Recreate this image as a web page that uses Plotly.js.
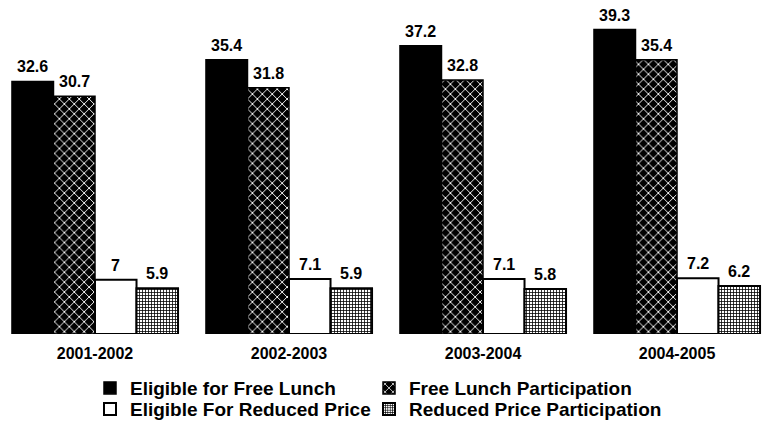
<!DOCTYPE html>
<html>
<head>
<meta charset="utf-8">
<script src="https://cdn.plot.ly/plotly-3.0.1.min.js"></script>
<style>
  html, body { margin: 0; padding: 0; background: #fff; }
  #chart { width: 762px; height: 426px; }
</style>
</head>
<body>
<div id="chart"></div>
<script>
// School years on the category axis
const years = ['2001-2002', '2002-2003', '2003-2004', '2004-2005'];

// Series values (percent of students)
const eligibleFree = [32.6, 35.4, 37.2, 39.3];
const freeParticipation = [30.7, 31.8, 32.8, 35.4];
const eligibleReduced = [7, 7.1, 7.1, 7.2];
const reducedParticipation = [5.9, 5.9, 5.8, 6.2];

const seriesNames = [
  'Eligible for Free Lunch',
  'Free Lunch Participation',
  'Eligible For Reduced Price',
  'Reduced Price Participation'
];

const FONT = 'Liberation Sans, Arial, sans-serif';
const BARGAP = 0.144;
const PLOT_W = 762;
const XRANGE = [-0.4897, 3.4381];

const markers = [
  { color: '#000000', line: { color: '#000', width: 1.5 } },
  { color: '#000000', line: { color: '#000', width: 1.5 },
    pattern: { shape: 'x', fgcolor: '#ffffff', bgcolor: '#000000', size: 7, solidity: 0.25 } },
  { color: '#ffffff', line: { color: '#000', width: 2 } },
  { color: '#ffffff', line: { color: '#000', width: 2 },
    pattern: { shape: '+', fgcolor: '#000000', bgcolor: '#ffffff', size: 3, solidity: 0.45 } }
];

// One legend box per series, laid out as a 2x2 key under the axis
const legendIds = ['legend', 'legend2', 'legend3', 'legend4'];
const legendX = [90, 369, 90, 369];
const legendY = [-0.105, -0.105, -0.168, -0.168];

const seriesValues = [eligibleFree, freeParticipation, eligibleReduced, reducedParticipation];

const traces = seriesValues.map((vals, i) => ({
  type: 'bar',
  name: seriesNames[i],
  x: years,
  y: vals,
  marker: markers[i],
  legend: legendIds[i],
  hoverinfo: 'x+y+name'
}));

// Value labels above each bar, centred on the bar within its group
const pxPerCat = PLOT_W / (XRANGE[1] - XRANGE[0]);
const barW = pxPerCat * (1 - BARGAP) / seriesValues.length;
const annotations = [];
seriesValues.forEach((vals, i) => {
  const shift = (i - (seriesValues.length - 1) / 2) * barW;
  vals.forEach((v, j) => {
    annotations.push({
      x: years[j], y: v, xref: 'x', yref: 'y',
      text: String(v), showarrow: false,
      xanchor: 'center', yanchor: 'bottom',
      xshift: shift, yshift: 4,
      font: { family: FONT, size: 16, weight: 'bold', color: '#000' }
    });
  });
});

const layout = {
  width: 762,
  height: 426,
  margin: { l: 0, r: 0, t: 0, b: 92, pad: 0, autoexpand: false },
  paper_bgcolor: '#ffffff',
  plot_bgcolor: '#ffffff',
  barmode: 'group',
  bargap: BARGAP,
  bargroupgap: 0,
  showlegend: true,
  xaxis: {
    type: 'category',
    range: XRANGE,
    showgrid: false,
    zeroline: false,
    showline: false,
    ticks: '',
    automargin: false,
    ticklabelstandoff: 8,
    tickfont: { family: FONT, size: 16, weight: 'bold', color: '#000' },
    fixedrange: true
  },
  yaxis: {
    range: [0, 43.12],
    showgrid: false,
    zeroline: false,
    showline: false,
    showticklabels: false,
    ticks: '',
    automargin: false,
    fixedrange: true
  },
  annotations: annotations
};

legendIds.forEach((id, i) => {
  layout[id] = {
    orientation: 'v',
    x: legendX[i] / PLOT_W,
    y: legendY[i],
    xanchor: 'left',
    yanchor: 'top',
    itemwidth: 30,
    font: { family: FONT, size: 19, weight: 'bold', color: '#000' },
    bgcolor: 'rgba(0,0,0,0)'
  };
});

Plotly.newPlot('chart', traces, layout, { displayModeBar: false, staticPlot: true });
</script>
</body>
</html>
